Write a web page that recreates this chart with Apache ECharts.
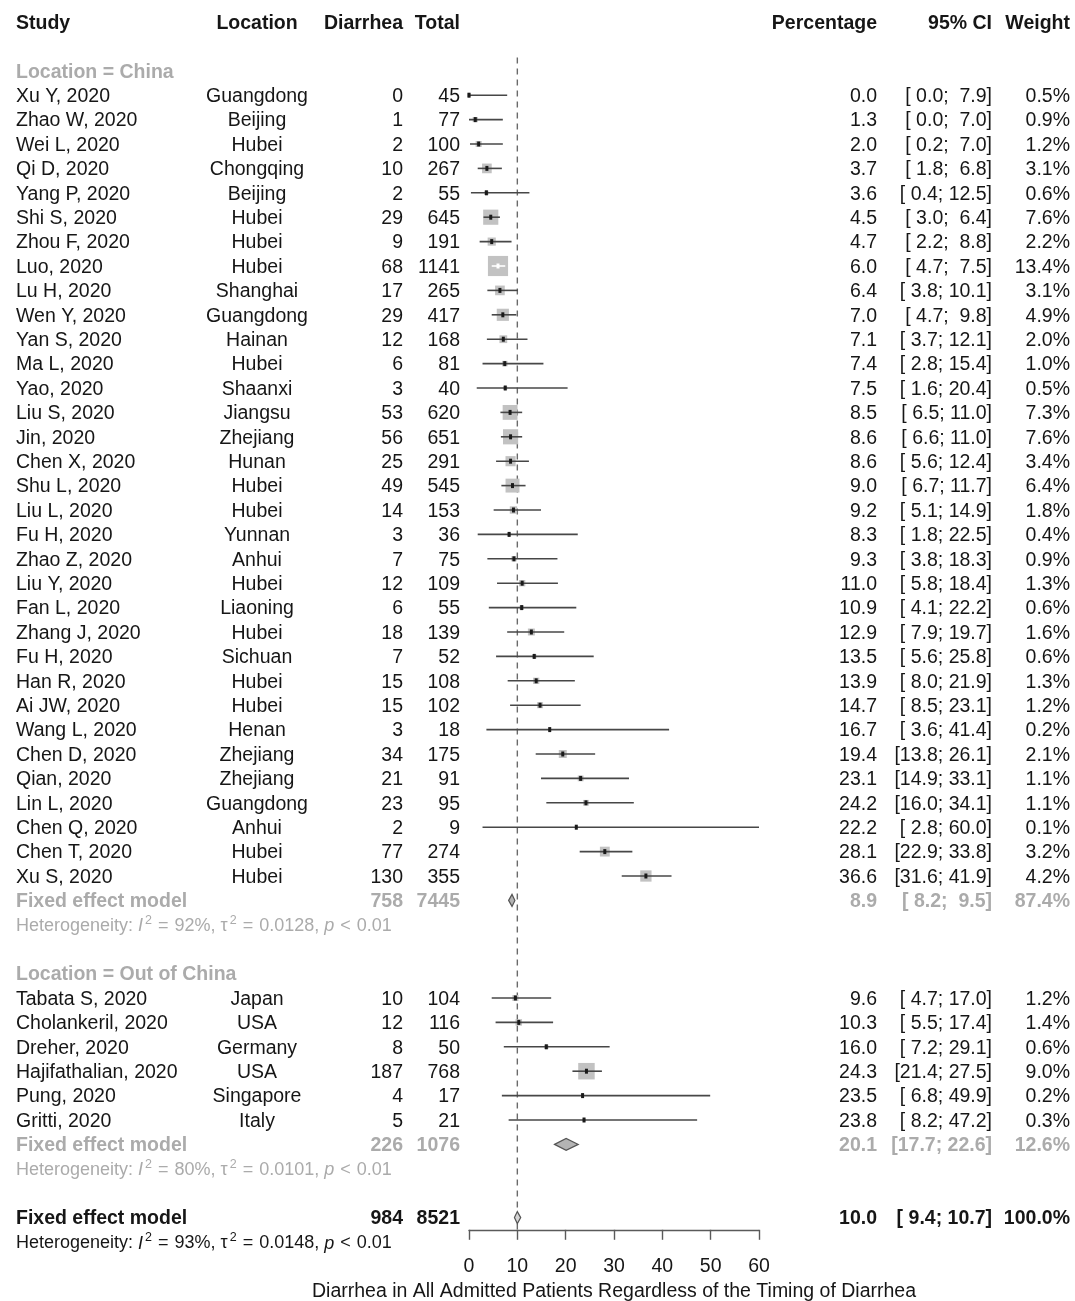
<!DOCTYPE html>
<html>
<head>
<meta charset="utf-8">
<title>Forest plot</title>
<script src="https://cdn.jsdelivr.net/npm/echarts@6.0.0/dist/echarts.min.js"></script>
<style>
  html, body { margin: 0; padding: 0; background: #fff; }
  #main { width: 1075px; height: 1301px; }
</style>
</head>
<body>
<div id="main"></div>
<script>
// ---- data: Location = China
var cnStudy = ['Xu Y, 2020', 'Zhao W, 2020', 'Wei L, 2020', 'Qi D, 2020', 'Yang P, 2020', 'Shi S, 2020',
  'Zhou F, 2020', 'Luo, 2020', 'Lu H, 2020', 'Wen Y, 2020', 'Yan S, 2020', 'Ma L, 2020', 'Yao, 2020',
  'Liu S, 2020', 'Jin, 2020', 'Chen X, 2020', 'Shu L, 2020', 'Liu L, 2020', 'Fu H, 2020', 'Zhao Z, 2020',
  'Liu Y, 2020', 'Fan L, 2020', 'Zhang J, 2020', 'Fu H, 2020', 'Han R, 2020', 'Ai JW, 2020', 'Wang L, 2020',
  'Chen D, 2020', 'Qian, 2020', 'Lin L, 2020', 'Chen Q, 2020', 'Chen T, 2020', 'Xu S, 2020']
var cnLocation = ['Guangdong', 'Beijing', 'Hubei', 'Chongqing', 'Beijing', 'Hubei', 'Hubei', 'Hubei',
  'Shanghai', 'Guangdong', 'Hainan', 'Hubei', 'Shaanxi', 'Jiangsu', 'Zhejiang', 'Hunan', 'Hubei', 'Hubei',
  'Yunnan', 'Anhui', 'Hubei', 'Liaoning', 'Hubei', 'Sichuan', 'Hubei', 'Hubei', 'Henan', 'Zhejiang',
  'Zhejiang', 'Guangdong', 'Anhui', 'Hubei', 'Hubei']
var cnEvents = [0, 1, 2, 10, 2, 29, 9, 68, 17, 29, 12, 6, 3, 53, 56, 25, 49, 14, 3, 7, 12, 6, 18, 7, 15, 15, 3, 34, 21, 23, 2, 77, 130]
var cnTotal = [45, 77, 100, 267, 55, 645, 191, 1141, 265, 417, 168, 81, 40, 620, 651, 291, 545, 153, 36, 75,
  109, 55, 139, 52, 108, 102, 18, 175, 91, 95, 9, 274, 355]
var cnEst = [0.0, 1.3, 2.0, 3.7, 3.6, 4.5, 4.7, 6.0, 6.4, 7.0, 7.1, 7.4, 7.5, 8.5, 8.6, 8.6, 9.0, 9.2, 8.3, 9.3,
  11.0, 10.9, 12.9, 13.5, 13.9, 14.7, 16.7, 19.4, 23.1, 24.2, 22.2, 28.1, 36.6]
var cnLower = [0.0, 0.0, 0.2, 1.8, 0.4, 3.0, 2.2, 4.7, 3.8, 4.7, 3.7, 2.8, 1.6, 6.5, 6.6, 5.6, 6.7, 5.1, 1.8, 3.8,
  5.8, 4.1, 7.9, 5.6, 8.0, 8.5, 3.6, 13.8, 14.9, 16.0, 2.8, 22.9, 31.6]
var cnUpper = [7.9, 7.0, 7.0, 6.8, 12.5, 6.4, 8.8, 7.5, 10.1, 9.8, 12.1, 15.4, 20.4, 11.0, 11.0, 12.4, 11.7, 14.9,
  22.5, 18.3, 18.4, 22.2, 19.7, 25.8, 21.9, 23.1, 41.4, 26.1, 33.1, 34.1, 60.0, 33.8, 41.9]
var cnWeight = [0.5, 0.9, 1.2, 3.1, 0.6, 7.6, 2.2, 13.4, 3.1, 4.9, 2.0, 1.0, 0.5, 7.3, 7.6, 3.4, 6.4, 1.8, 0.4, 0.9,
  1.3, 0.6, 1.6, 0.6, 1.3, 1.2, 0.2, 2.1, 1.1, 1.1, 0.1, 3.2, 4.2]
// events, total, estimate, lower, upper, weight
var cnPooled = [758, 7445, 8.9, 8.2, 9.5, 87.4]
var cnHet = ['92%', '0.0128', '0.01']

// ---- data: Location = Out of China
var exStudy = ['Tabata S, 2020', 'Cholankeril, 2020', 'Dreher, 2020', 'Hajifathalian, 2020', 'Pung, 2020', 'Gritti, 2020']
var exLocation = ['Japan', 'USA', 'Germany', 'USA', 'Singapore', 'Italy']
var exEvents = [10, 12, 8, 187, 4, 5]
var exTotal = [104, 116, 50, 768, 17, 21]
var exEst = [9.6, 10.3, 16.0, 24.3, 23.5, 23.8]
var exLower = [4.7, 5.5, 7.2, 21.4, 6.8, 8.2]
var exUpper = [17.0, 17.4, 29.1, 27.5, 49.9, 47.2]
var exWeight = [1.2, 1.4, 0.6, 9.0, 0.2, 0.3]
var exPooled = [226, 1076, 20.1, 17.7, 22.6, 12.6]
var exHet = ['80%', '0.0101', '0.01']

// ---- overall
var allPooled = [984, 8521, 10.0, 9.4, 10.7, 100.0]
var allHet = ['93%', '0.0148', '0.01']

var refValue = 10
var xName = 'Diarrhea in All Admitted Patients Regardless of the Timing of Diarrhea'

// ---- layout
var FONT = 'Liberation Sans, Arial, Helvetica, sans-serif'
var GRAY = '#ababab'
var INK = '#161616'
var FS = 19.5
var HFS = 18
var ROW_H = 24.4
var LAST_ROW = 49.5
var TEXT_DY = 1.5
var cols = {
  study: { x: 16, align: 'left' },
  location: { x: 257, align: 'center' },
  events: { x: 403, align: 'right' },
  total: { x: 460, align: 'right' },
  est: { x: 877, align: 'right' },
  ci: { x: 992, align: 'right' },
  weight: { x: 1070, align: 'right' }
}

function pad(v) {
  var s = v.toFixed(1)
  return (s.length < 4 ? ' ' : '') + s
}
function fmtCI(lo, hi) { return '[' + pad(lo) + '; ' + pad(hi) + ']' }

var textRows = []
var studyMarks = []
var diamonds = []

function addGroup(label, start, study, loc, ev, tot, est, lo, hi, w, pooled, het) {
  var r = start
  textRows.push({ row: r++, kind: 'group', cells: { study: label } })
  for (var i = 0; i < study.length; i++) {
    textRows.push({
      row: r, kind: 'study', cells: {
        study: study[i], location: loc[i], events: String(ev[i]), total: String(tot[i]),
        est: est[i].toFixed(1), ci: fmtCI(lo[i], hi[i]), weight: w[i].toFixed(1) + '%'
      }
    })
    studyMarks.push([est[i], lo[i], hi[i], r, w[i]])
    r++
  }
  textRows.push({
    row: r, kind: 'pooledSub', cells: {
      study: 'Fixed effect model', events: String(pooled[0]), total: String(pooled[1]),
      est: pooled[2].toFixed(1), ci: fmtCI(pooled[3], pooled[4]), weight: pooled[5].toFixed(1) + '%'
    }
  })
  diamonds.push([pooled[2], pooled[3], pooled[4], r, 0])
  r++
  textRows.push({ row: r++, kind: 'hetSub', het: het })
  return r + 1 // one blank row
}

textRows.push({
  row: 0, kind: 'head', cells: {
    study: 'Study', location: 'Location', events: 'Diarrhea', total: 'Total',
    est: 'Percentage', ci: '95% CI', weight: 'Weight'
  }
})
var next = addGroup('Location = China', 2, cnStudy, cnLocation, cnEvents, cnTotal, cnEst, cnLower, cnUpper, cnWeight, cnPooled, cnHet)
next = addGroup('Location = Out of China', next, exStudy, exLocation, exEvents, exTotal, exEst, exLower, exUpper, exWeight, exPooled, exHet)
textRows.push({
  row: next, kind: 'pooledAll', cells: {
    study: 'Fixed effect model', events: String(allPooled[0]), total: String(allPooled[1]),
    est: allPooled[2].toFixed(1), ci: fmtCI(allPooled[3], allPooled[4]), weight: allPooled[5].toFixed(1) + '%'
  }
})
diamonds.push([allPooled[2], allPooled[3], allPooled[4], next, 1])
textRows.push({ row: next + 1, kind: 'hetAll', het: allHet })

var kindStyle = {
  head: { fill: INK, bold: true },
  group: { fill: GRAY, bold: true },
  study: { fill: INK, bold: false },
  pooledSub: { fill: GRAY, bold: true },
  pooledAll: { fill: INK, bold: true },
  hetSub: { fill: GRAY },
  hetAll: { fill: INK }
}

function renderText(params, api) {
  var r = textRows[params.dataIndex]
  var y = api.coord([0, api.value(1)])[1] + TEXT_DY
  var ks = kindStyle[r.kind]
  var children = []
  if (r.het) {
    children.push({
      type: 'text', x: cols.study.x, y: y,
      style: {
        text: 'Heterogeneity: {it|I}{sup|2}{op|=}' + r.het[0] + ', \u03c4{sup|2}{op|=}' + r.het[1] + ', {it|p}{op|<}' + r.het[2],
        fontFamily: FONT, fontSize: HFS, fill: ks.fill, lineHeight: 24,
        align: 'left', textAlign: 'left', verticalAlign: 'middle', textVerticalAlign: 'middle',
        rich: {
          it: { fontStyle: 'italic', fontSize: HFS, fontFamily: FONT, lineHeight: 24 },
          op: { fontSize: HFS, fontFamily: FONT, lineHeight: 24, padding: [0, 6, 0, 6] },
          sup: { fontSize: 12.5, fontFamily: FONT, verticalAlign: 'top', lineHeight: 12, padding: [0, 0, 0, 2] }
        }
      }
    })
  } else {
    for (var k in r.cells) {
      children.push({
        type: 'text', x: cols[k].x, y: y,
        style: {
          text: r.cells[k], fontFamily: FONT, fontSize: FS,
          fontWeight: ks.bold ? 'bold' : 'normal', fill: ks.fill,
          align: cols[k].align, textAlign: cols[k].align,
          verticalAlign: 'middle', textVerticalAlign: 'middle'
        }
      })
    }
  }
  return { type: 'group', children: children }
}

function renderStudy(params, api) {
  var est = api.value(0), lo = api.value(1), hi = api.value(2), row = api.value(3), w = api.value(4)
  var pE = api.coord([est, row])
  var pL = api.coord([lo, row])
  var pH = api.coord([hi, row])
  var s = 5.5 * Math.sqrt(w)
  var inside = (pE[0] - s / 2 <= pL[0]) && (pE[0] + s / 2 >= pH[0])
  return {
    type: 'group',
    children: [
      { type: 'rect', shape: { x: pE[0] - s / 2, y: pE[1] - s / 2, width: s, height: s }, style: { fill: '#c2c2c2' } },
      { type: 'line', shape: { x1: pL[0], y1: pE[1], x2: pH[0], y2: pE[1] }, style: { stroke: inside ? '#ffffff' : '#474747', lineWidth: 1.6 } },
      { type: 'rect', shape: { x: pE[0] - 1.5, y: pE[1] - 2.5, width: 3, height: 5 }, style: { fill: inside ? '#ffffff' : '#1a1a1a' } }
    ]
  }
}

function renderDiamond(params, api) {
  var est = api.value(0), lo = api.value(1), hi = api.value(2), row = api.value(3)
  var pE = api.coord([est, row])
  var pL = api.coord([lo, row])
  var pH = api.coord([hi, row])
  var h = 6
  return {
    type: 'polygon',
    shape: { points: [[pL[0], pE[1]], [pE[0], pE[1] - h], [pH[0], pE[1]], [pE[0], pE[1] + h]] },
    style: { fill: api.value(4) ? '#d6d6d6' : '#b4b4b4', stroke: '#555', lineWidth: 1.2 }
  }
}

function renderRef(params, api) {
  var a = api.coord([api.value(0), api.value(1)])
  var b = api.coord([api.value(0), api.value(2)])
  return {
    type: 'line',
    shape: { x1: a[0], y1: a[1], x2: b[0], y2: b[1] },
    style: { stroke: '#6a6a6a', lineWidth: 1.4, lineDash: [6, 5] }
  }
}

var chart = echarts.init(document.getElementById('main'))
var option = {
  animation: false,
  backgroundColor: '#fff',
  grid: { left: 469, width: 290, top: 22, height: LAST_ROW * ROW_H, containLabel: false, outerBoundsMode: 'none' },
  xAxis: {
    type: 'value', min: 0, max: 60, interval: 10, position: 'bottom',
    axisLine: { show: true, onZero: false, lineStyle: { color: '#5a5a5a', width: 1.4 } },
    axisTick: { show: true, length: 10, lineStyle: { color: '#5a5a5a', width: 1.4 } },
    axisLabel: { color: INK, fontSize: FS, fontFamily: FONT, margin: 27 },
    splitLine: { show: false },
    name: xName, nameLocation: 'middle', nameGap: 50,
    nameTextStyle: { color: INK, fontSize: FS, fontFamily: FONT }
  },
  yAxis: { type: 'value', min: 0, max: LAST_ROW, inverse: true, show: false },
  series: [
    {
      type: 'custom', name: 'ref', renderItem: renderRef, clip: false,
      data: [[refValue, 1.45, LAST_ROW]], encode: { x: 0, y: [1, 2] }
    },
    {
      type: 'custom', name: 'studies', renderItem: renderStudy, clip: false,
      data: studyMarks, encode: { x: [0, 1, 2], y: 3 }
    },
    {
      type: 'custom', name: 'pooled', renderItem: renderDiamond, clip: false,
      data: diamonds, encode: { x: [0, 1, 2], y: 3 }
    },
    {
      type: 'custom', name: 'text', renderItem: renderText, clip: false,
      data: textRows.map(function (r) { return [0, r.row] }), encode: { x: 0, y: 1 }
    }
  ]
}
chart.setOption(option)
window.addEventListener('resize', function () { chart.resize() })
</script>
</body>
</html>
